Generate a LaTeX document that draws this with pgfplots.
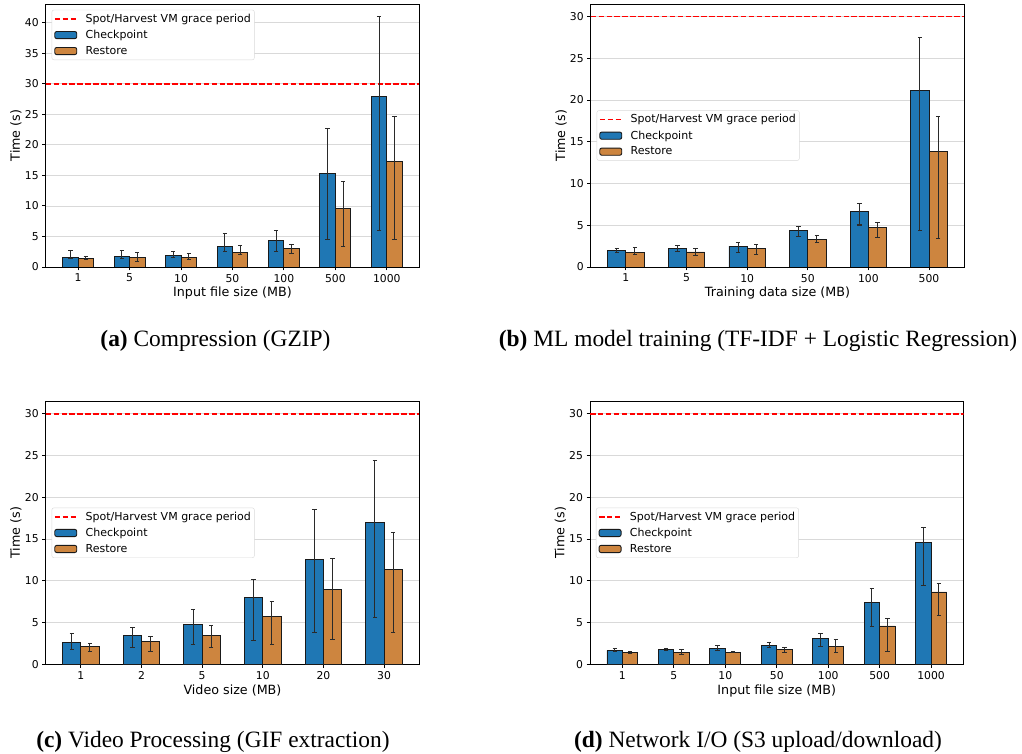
\documentclass[border=0pt]{standalone}
\usepackage{pgfplots}
\pgfplotsset{compat=1.18}
\usepackage{pgfplotstable}
\usepackage{fontspec}
\setmainfont{DejaVu Sans}
\newfontfamily\capfont{Liberation Serif}
\definecolor{tabblue}{HTML}{1F77B4}
\definecolor{peru}{HTML}{CD853F}
\definecolor{gridc}{HTML}{D9D9D9}
\definecolor{errc}{HTML}{2A2A2A}
\definecolor{edgec}{HTML}{1A1A1A}
\definecolor{gpred}{HTML}{FF0000}

% x y ep em
\pgfplotstableread{
x y ep em
0 1.60 1.05 0.20
1 1.80 0.82 0.35
2 1.90 0.56 0.35
3 3.40 2.15 0.83
4 4.37 1.53 1.91
5 15.36 7.34 10.86
6 27.90 13.10 21.90
}\aC
\pgfplotstableread{
x y ep em
0 1.37 0.29 0.17
1 1.55 0.82 0.60
2 1.55 0.60 0.33
3 2.38 1.14 0.38
4 3.06 0.60 0.87
5 9.56 4.44 6.23
6 17.20 7.40 12.70
}\aR
\pgfplotstableread{
x y ep em
0 1.95 0.32 0.19
1 2.23 0.36 0.43
2 2.51 0.40 0.75
3 4.39 0.51 0.68
4 6.62 0.96 1.59
5 21.14 6.30 16.71
}\bC
\pgfplotstableread{
x y ep em
0 1.72 0.67 0.28
1 1.80 0.39 0.44
2 2.19 0.48 0.67
3 3.35 0.48 0.44
4 4.71 0.60 1.12
5 13.80 4.23 10.33
}\bR
\pgfplotstableread{
x y ep em
0 2.59 1.08 0.76
1 3.47 0.92 1.44
2 4.75 1.87 2.36
3 7.98 2.15 5.07
4 12.52 6.03 8.69
5 16.95 7.42 11.33
}\cC
\pgfplotstableread{
x y ep em
0 2.11 0.40 0.55
1 2.75 0.56 1.19
2 3.47 1.16 1.48
3 5.78 1.72 3.39
4 8.97 3.75 6.02
5 11.37 4.39 7.62
}\cR
\pgfplotstableread{
x y ep em
0 1.68 0.19 0.12
1 1.76 0.15 0.16
2 1.91 0.40 0.27
3 2.31 0.28 0.28
4 3.11 0.56 0.96
5 7.42 1.67 2.91
6 14.60 1.79 5.19
}\dC
\pgfplotstableread{
x y ep em
0 1.40 0.16 0.12
1 1.40 0.36 0.20
2 1.44 0.08 0.08
3 1.80 0.23 0.36
4 2.19 0.80 0.75
5 4.59 0.91 3.03
6 8.66 1.03 2.76
}\dR

\pgfplotsset{
  myax/.style={
    scale only axis, width=373.5pt, height=263pt,
    anchor=south west,
    ymin=0, axis line style={line width=0.9pt},
    tick align=outside, tick pos=left, major tick length=3.5pt,
    tick style={black, line width=0.9pt},
    ymajorgrids, grid style={gridc, line width=0.8pt},
    ticklabel style={font=\fontsize{10.8}{12}\selectfont},
    /pgf/number format/assume math mode=true,
    ylabel={Time (s)},
    every axis y label/.style={at={(axis description cs:-0.0795,0.5)}, rotate=90, anchor=center, font=\fontsize{12.7}{15}\selectfont},
    every axis x label/.style={at={(axis description cs:0.5,-0.1)}, anchor=center, font=\fontsize{12.7}{15}\selectfont},
    legend cell align=left,
    legend style={font=\fontsize{11}{13}\selectfont, draw=black!15, rounded corners=2pt,
      fill=white, inner xsep=2pt, inner ysep=2.5pt,
      row sep=3.3pt, column sep=6.5pt, nodes={inner sep=1.5pt}},
  },
  gp/.style={color=gpred, line width=1.8pt, dash pattern=on 5.5pt off 2.4pt,
    legend image code/.code={\draw[##1] (0pt,0pt) -- (22pt,0pt);}},
  erb/.style={error bars/.cd, y dir=both, y explicit,
      error bar style={errc, line width=1pt},
      error mark options={rotate=90, mark size=2.2pt, errc, line width=1pt}},
  barC/.style={ybar, bar width=0.3, bar shift=0pt, fill=tabblue, draw=edgec, line width=0.9pt,
    legend image code/.code={\draw[##1, fill=tabblue] (0pt,-3.6pt) rectangle (22pt,3.6pt);}, erb},
  barR/.style={ybar, bar width=0.3, bar shift=0pt, fill=peru, draw=edgec, line width=0.9pt,
    legend image code/.code={\draw[##1, fill=peru] (0pt,-3.6pt) rectangle (22pt,3.6pt);}, erb},
}

\begin{document}
\begin{tikzpicture}[x=1pt,y=1pt]
\useasboundingbox (0,0) rectangle (1022,753);

% (a)
\begin{axis}[myax, at={(45.7pt,486pt)}, xmin=-0.63, xmax=6.63, ymax=43.05,
  ytick={0,5,...,40}, xtick={0,...,6}, xticklabels={1,5,10,50,100,500,1000},
  xlabel={Input file size (MB)},
  legend style={at={(0.016,0.978)}, anchor=north west}]
\addplot[gp] coordinates {(-0.63,30) (6.63,30)};
\addlegendentry{Spot/Harvest VM grace period}
\addplot[barC] table[x expr=\thisrow{x}-0.15, y=y, y error plus=ep, y error minus=em] {\aC};
\addlegendentry{Checkpoint}
\addplot[barR] table[x expr=\thisrow{x}+0.15, y=y, y error plus=ep, y error minus=em] {\aR};
\addlegendentry{Restore}
\end{axis}

% (b)
\begin{axis}[myax, at={(590.7pt,486pt)}, xmin=-0.58, xmax=5.58, ymax=31.5,
  ytick={0,5,...,30}, xtick={0,...,5}, xticklabels={1,5,10,50,100,500},
  xlabel={Training data size (MB)},
  legend style={at={(0.016,0.5)}, anchor=west}]
\addplot[gp] coordinates {(-0.58,30) (5.58,30)};
\addlegendentry{Spot/Harvest VM grace period}
\addplot[barC] table[x expr=\thisrow{x}-0.15, y=y, y error plus=ep, y error minus=em] {\bC};
\addlegendentry{Checkpoint}
\addplot[barR] table[x expr=\thisrow{x}+0.15, y=y, y error plus=ep, y error minus=em] {\bR};
\addlegendentry{Restore}
\end{axis}

% (c)
\begin{axis}[myax, at={(45.7pt,88.7pt)}, xmin=-0.58, xmax=5.58, ymax=31.5,
  ytick={0,5,...,30}, xtick={0,...,5}, xticklabels={1,2,5,10,20,30},
  xlabel={Video size (MB)},
  legend style={at={(0.016,0.5)}, anchor=west}]
\addplot[gp] coordinates {(-0.58,30) (5.58,30)};
\addlegendentry{Spot/Harvest VM grace period}
\addplot[barC] table[x expr=\thisrow{x}-0.15, y=y, y error plus=ep, y error minus=em] {\cC};
\addlegendentry{Checkpoint}
\addplot[barR] table[x expr=\thisrow{x}+0.15, y=y, y error plus=ep, y error minus=em] {\cR};
\addlegendentry{Restore}
\end{axis}

% (d)
\begin{axis}[myax, at={(590pt,88.7pt)}, xmin=-0.63, xmax=6.63, ymax=31.5,
  ytick={0,5,...,30}, xtick={0,...,6}, xticklabels={1,5,10,50,100,500,1000},
  xlabel={Input file size (MB)},
  legend style={at={(0.016,0.5)}, anchor=west}]
\addplot[gp] coordinates {(-0.63,30) (6.63,30)};
\addlegendentry{Spot/Harvest VM grace period}
\addplot[barC] table[x expr=\thisrow{x}-0.15, y=y, y error plus=ep, y error minus=em] {\dC};
\addlegendentry{Checkpoint}
\addplot[barR] table[x expr=\thisrow{x}+0.15, y=y, y error plus=ep, y error minus=em] {\dR};
\addlegendentry{Restore}
\end{axis}

\node[anchor=base, font=\capfont\fontsize{23.4}{26}\selectfont] at (215.5,406) {\textbf{(a)} Compression (GZIP)};
\node[anchor=base, font=\capfont\fontsize{23.4}{26}\selectfont] at (758,406) {\textbf{(b)} ML model training (TF-IDF + Logistic Regression)};
\node[anchor=base, font=\capfont\fontsize{23.4}{26}\selectfont] at (213,6) {\textbf{(c)} Video Processing (GIF extraction)};
\node[anchor=base, font=\capfont\fontsize{23.4}{26}\selectfont] at (758,6) {\textbf{(d)} Network I/O (S3 upload/download)};
\end{tikzpicture}
\end{document}
